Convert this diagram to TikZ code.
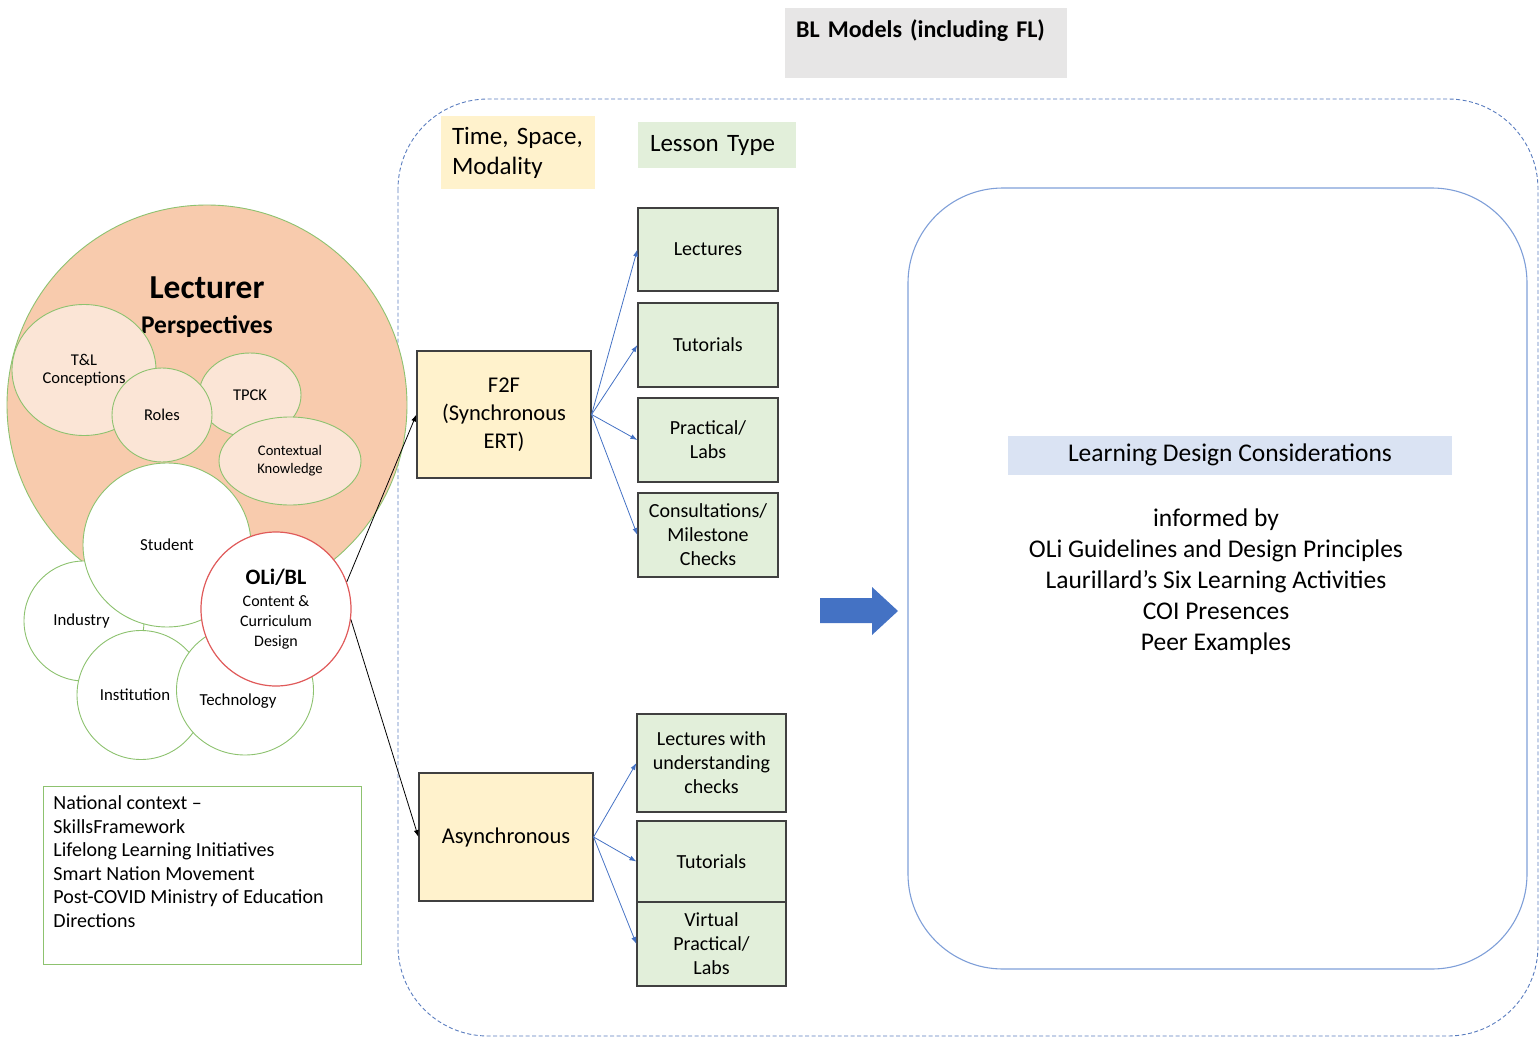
\documentclass[tikz,border=0pt]{standalone}
\usepackage{fontspec}
\setmainfont{Carlito}
\usetikzlibrary{arrows.meta,positioning,shapes.geometric}
\definecolor{titlegray}{HTML}{E7E6E6}
\definecolor{sand}{HTML}{FFF2CC}
\definecolor{mint}{HTML}{E2EFDA}
\definecolor{peach}{HTML}{F8CBAD}
\definecolor{blush}{HTML}{FBE5D6}
\definecolor{paleblue}{HTML}{DAE3F3}
\definecolor{boxline}{HTML}{404040}
\definecolor{ringgreen}{HTML}{8DC26F}
\definecolor{olired}{HTML}{E05A5A}
\definecolor{dashblue}{HTML}{5A7DBF}
\definecolor{arrowblue}{HTML}{4472C4}
\definecolor{frameblue}{HTML}{7F9FD8}
\newcommand\fsz[2]{\fontsize{#1}{#2}\selectfont}

\begin{document}
\begin{tikzpicture}[x=1pt,y=-1pt,>=Latex,
  bub/.style={ellipse,draw=ringgreen,line width=.9pt,inner sep=0pt,align=center},
  inbub/.style={bub,fill=blush,font=\fsz{16.5}{18}},
  outbub/.style={bub,fill=white,font=\fsz{16.8}{20}},
  modebox/.style={draw=boxline,fill=sand,line width=1.2pt,align=center,
    minimum width=174,font=\fsz{22.5}{28}},
  lessonbox/.style={draw=boxline,fill=mint,line width=1.2pt,align=center,
    minimum width=140,minimum height=84,font=\fsz{20}{24}},
  blu/.style={->,draw=arrowblue,line width=.8pt,
    >={Latex[length=7pt,width=5pt]}},
  blk/.style={->,line width=.8pt,>={Latex[length=7pt,width=5pt]}}]
 \useasboundingbox (0,0) rectangle (1540,1038);

 \node[anchor=north west,fill=titlegray,inner xsep=11,inner ysep=0,
    text width=260,align=left,text height=29,text depth=41,
    font=\bfseries\fsz{24}{26}] (title) at (785,8) {BL Models (including FL)};
 \draw[dashed,dash pattern=on 4pt off 2.5pt,draw=dashblue,line width=.9pt,
    rounded corners=90] (398,99) rectangle (1538,1036);

 \node[bub,fill=peach,minimum width=400,minimum height=400] (lect) at (207,405) {};
 \node[font=\bfseries\fsz{25.5}{35},align=center] (lecttxt) at (207,307)
   {{\fsz{33.5}{35}Lecturer}\\Perspectives};
 \node[inbub,minimum width=144,minimum height=131] (tl) at (84,370) {T\&L\\Conceptions};
 \node[inbub,minimum width=102,minimum height=84] (tpck) at (250,395) {TPCK};
 \node[inbub,minimum width=100,minimum height=94] (roles) at (162,415) {Roles};
 \node[inbub,minimum width=142,minimum height=88,font=\fsz{14.6}{18}] (ctx)
   at (290,461) {Contextual\\Knowledge};
 \node[outbub,minimum width=120,minimum height=120] (ind) at (84,621)
   {\hspace*{-5pt}Industry};
 \node[outbub,minimum width=168,minimum height=164] (stud) at (167,545) {Student};
 \node[outbub,minimum width=128,minimum height=129] (inst) at (141,695)
   {\hspace*{-12pt}Institution};
 \node[outbub,minimum width=137,minimum height=130,text height=34,text depth=4]
   (tech) at (245,690) {\hspace*{-14pt}Technology};
 \node[bub,draw=olired,line width=1.2pt,fill=white,minimum width=150,
    minimum height=154,font=\fsz{16}{20}] (oli) at (276,609)
   {{\bfseries\fsz{22}{24}OLi/BL}\\[2pt]Content \&\\Curriculum\\Design};

 \node[draw=ringgreen,line width=.9pt,anchor=north west,inner xsep=10,
    inner ysep=0,font=\fsz{20}{23.6}] (natl) at (43,786)
   {\parbox[c][178pt][t]{298pt}{\raggedright
    \rule{0pt}{23pt}National context --\\
    SkillsFramework\\
    Lifelong Learning Initiatives\\
    Smart Nation Movement\\
    Post-COVID Ministry of Education\\
    Directions}};

 \node[fill=sand,minimum width=154,minimum height=73,inner xsep=11,
    text width=132,align=left,font=\fsz{25}{30}] (tsm) at (518,152.5)
   {Time, Space,\\Modality};
 \node[fill=mint,minimum width=158,minimum height=46,inner xsep=12,
    text width=134,align=left,font=\fsz{25}{30}] (ltype) at (717,145)
   {Lesson Type};

 \node[modebox,minimum height=127] (f2f) at (504,414.5)
   {F2F\\(Synchronous\\ERT)};
 \node[modebox,minimum height=128] (async) at (506,837) {Asynchronous};

 \node[lessonbox,minimum height=83] (lec) at (708,249.5) {Lectures};
 \node[lessonbox] (tut) at (708,345) {Tutorials};
 \node[lessonbox] (prac) at (708,440) {Practical/\\Labs};
 \node[lessonbox] (cons) at (708,535) {Consultations/\\Milestone\\Checks};
 \node[lessonbox,minimum width=149,minimum height=98] (lwuc) at (711.5,763)
   {Lectures with\\understanding\\checks};
 \node[lessonbox,minimum width=149,minimum height=81] (tut2) at (711.5,861.5)
   {Tutorials};
 \node[lessonbox,minimum width=149,minimum height=84] (virt) at (711.5,944)
   {Virtual\\Practical/\\Labs};

 \foreach \t in {lec,tut,prac,cons}
   \draw[blu] (f2f.east) -- (\t.west);
 \foreach \t in {lwuc,tut2,virt}
   \draw[blu] (async.east) -- (\t.west);
 \draw[blk] (oli.21) -- (f2f.west);
 \draw[blk] (oli.-8) -- (async.west);

 \fill[arrowblue] (820,598) -- (872,598) -- (872,587) -- (898,611)
   -- (872,635) -- (872,623) -- (820,623) -- cycle;
 \draw[frameblue,line width=1.1pt,rounded corners=95] (908,188) rectangle (1527,969);
 \node[fill=paleblue,minimum width=444,minimum height=39,font=\fsz{25.5}{28}]
   (ldc) at (1230,455) {Learning Design Considerations};
 \node[align=center,font=\fsz{25.5}{31}] (informed) at (1216,582)
   {informed by\\OLi Guidelines and Design Principles\\
    Laurillard’s Six Learning Activities\\COI Presences\\Peer Examples};
\end{tikzpicture}
\end{document}
